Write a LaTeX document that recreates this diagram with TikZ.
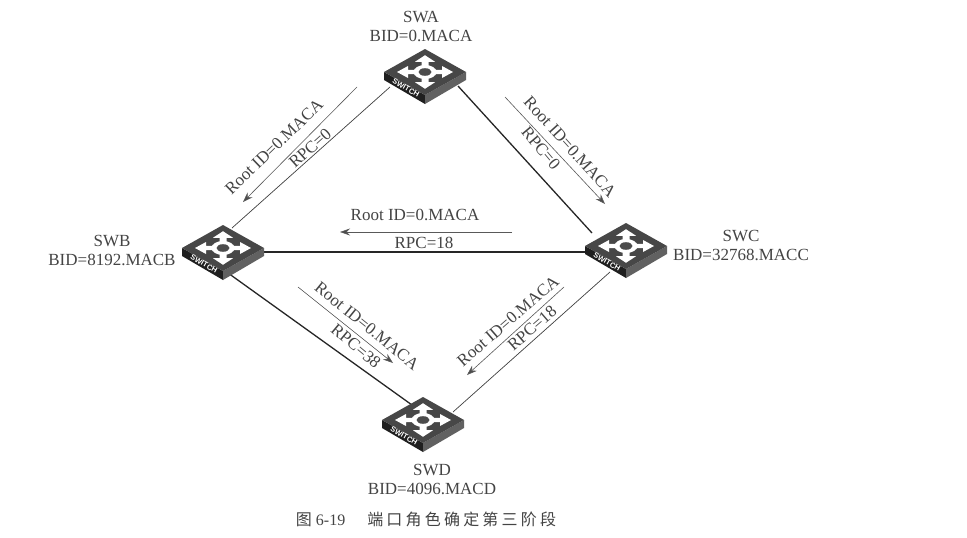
\documentclass[tikz,border=0pt]{standalone}
\usepackage{fontspec}
\setmainfont{Liberation Serif}
\setsansfont{Liberation Sans}
\newfontfamily\cjkfont[LetterSpace=20]{Noto Sans CJK SC}
\usetikzlibrary{arrows.meta}
\pgfdeclarelayer{paper}
\pgfdeclarelayer{back}
\pgfsetlayers{paper,back,main}
\definecolor{ink}{HTML}{444444}
\tikzset{
  x=1pt,y=-1pt,
  lbl/.style={inner sep=0pt,text=ink,font=\fontsize{17}{18}\selectfont,align=center},
  thinlink/.style={draw=black!75,line width=0.7pt},
  thicklink/.style={draw=black!85,line width=1.3pt},
  flow/.style={draw=black!65,line width=0.6pt,-{Stealth[length=10pt,width=7pt,fill=black!70]}},
  switchdev/.pic={
    \fill[black!88] (-41,0)--(0,23)--(0,32)--(-41,8)--cycle;
    \fill[black!62] (41,0)--(0,23)--(0,32)--(41,8)--cycle;
    \fill[black!72] (-41,0)--(0,-23)--(41,0)--(0,23)--cycle;
    \foreach \a in {0,90,180,270}{
      \fill[white,yscale=.6,rotate=\a] (5,-3.5)--(17,-3.5)--(17,-10)--(28,0)--(17,10)--(17,3.5)--(5,3.5)--cycle;
    }
    \fill[white] (0,0) ellipse (11.5 and 7);
    \fill[black!70] (0,0) ellipse (6.5 and 3.8);
    \node[rotate=-30,text=white,inner sep=0pt,font=\sffamily\bfseries\fontsize{7.5}{8}\selectfont] at (-19,16) {SWITCH};
  }
}
\begin{document}
\begin{tikzpicture}
\useasboundingbox (0,0) rectangle (967,538);
\begin{pgfonlayer}{paper}
\fill[white] (0,0) rectangle (967,538);
\end{pgfonlayer}
% switches
\coordinate (swa) at (425,72);
\coordinate (swb) at (223,248);
\coordinate (swc) at (626,246);
\coordinate (swd) at (423,420);
% link ends, hidden under the switches
\coordinate (ab1) at (390,87);  \coordinate (ab2) at (232,228);
\coordinate (ac1) at (458,86);  \coordinate (ac2) at (592,233);
\coordinate (bc1) at (260,252); \coordinate (bc2) at (590,252);
\coordinate (bd1) at (228,273); \coordinate (bd2) at (412,405);
\coordinate (cd1) at (610,272); \coordinate (cd2) at (453,412);
\begin{pgfonlayer}{back}
\draw[thinlink] (ab1)--(ab2);
\draw[thicklink] (ac1)--(ac2);
\draw[thicklink] (bc1)--(bc2);
\draw[thicklink] (bd1)--(bd2);
\draw[thinlink] (cd1)--(cd2);
\end{pgfonlayer}
\pic at (swa) {switchdev};
\pic at (swb) {switchdev};
\pic at (swc) {switchdev};
\pic at (swd) {switchdev};
% flow arrows
\coordinate (f1s) at (357,87);  \coordinate (f1e) at (243,202);
\coordinate (f2s) at (505,97);  \coordinate (f2e) at (605,204);
\coordinate (f3s) at (512,232); \coordinate (f3e) at (340,232);
\coordinate (f4s) at (298,287); \coordinate (f4e) at (393,363);
\coordinate (f5s) at (564,287); \coordinate (f5e) at (467,375);
\draw[flow] (f1s)--(f1e);
\draw[flow] (f2s)--(f2e);
\draw[flow] (f3s)--(f3e);
\draw[flow] (f4s)--(f4e);
\draw[flow] (f5s)--(f5e);
% labels
\node[lbl] (la) at (421,26) {SWA\\[1pt]BID=0.MACA};
\node[lbl] (lb) at (112,250) {SWB\\[1pt]BID=8192.MACB};
\node[lbl] (lc) at (741,245) {SWC\\[1pt]BID=32768.MACC};
\node[lbl] (ld) at (432,479) {SWD\\[1pt]BID=4096.MACD};
\node[lbl,rotate=44] (t1a) at (274,147) {Root ID=0.MACA};
\node[lbl,rotate=42] (t1b) at (310,148) {RPC=0};
\node[lbl,rotate=-48] (t2a) at (570,147) {Root ID=0.MACA};
\node[lbl,rotate=-50] (t2b) at (541,148) {RPC=0};
\node[lbl] (t3a) at (415,215) {Root ID=0.MACA};
\node[lbl] (t3b) at (424,243) {RPC=18};
\node[lbl,rotate=-39] (t4a) at (367,326) {Root ID=0.MACA};
\node[lbl,rotate=-40] (t4b) at (356,346) {RPC=38};
\node[lbl,rotate=41] (t5a) at (508,321) {Root ID=0.MACA};
\node[lbl,rotate=41] (t5b) at (532,328) {RPC=18};
\node[lbl,font=\cjkfont\fontsize{16}{18}\selectfont] (cap) at (426,519) {图\hspace{4pt}{\rmfamily 6-19}\hspace{22pt}端口角色确定第三阶段};
\end{tikzpicture}
\end{document}
